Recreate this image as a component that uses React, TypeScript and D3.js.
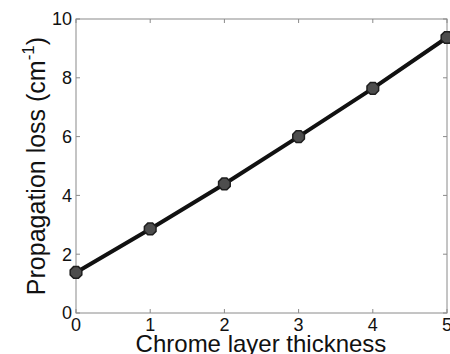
import * as d3 from "d3";

const thickness = [0, 1, 2, 3, 4, 5];
const loss = [1.38, 2.86, 4.39, 6.0, 7.64, 9.37];
const xTicks = [0, 1, 2, 3, 4, 5];
const yTicks = [0, 2, 4, 6, 8, 10];

const width = 450;
const height = 354;
const left = 76;
const right = 447;
const top = 19;
const bottom = 313;

export default function App() {
  const x = d3.scaleLinear().domain([0, 5]).range([left, right]);
  const y = d3.scaleLinear().domain([0, 10]).range([bottom, top]);

  const line = d3
    .line<number>()
    .x((_, i) => x(thickness[i]))
    .y((d) => y(d));

  // octagon marker, like the blurry matlab dots
  const octagon = d3
    .lineRadial<number>()
    .angle((d) => d)
    .radius(6.3)
    .curve(d3.curveLinearClosed)(d3.range(8).map((i) => Math.PI / 8 + (i * Math.PI) / 4));

  const font = "'Liberation Sans', Arial, sans-serif";
  const axisColor = "#8a8a8a";

  return (
    <svg
      width={width}
      height={height}
      style={{ position: "absolute", left: 0, top: 0, background: "#fff" }}
      fontFamily={font}
    >
      <rect x={0} y={0} width={width} height={height} fill="#fff" />

      {/* box */}
      <rect
        x={left}
        y={top}
        width={right - left}
        height={bottom - top}
        fill="none"
        stroke={axisColor}
        strokeWidth={1}
      />

      {/* ticks inward */}
      {xTicks.map((t) => (
        <g key={"xt" + t}>
          <line x1={x(t)} x2={x(t)} y1={bottom} y2={bottom - 4} stroke={axisColor} />
          <line x1={x(t)} x2={x(t)} y1={top} y2={top + 4} stroke={axisColor} />
          <text
            x={x(t)}
            y={bottom + 18}
            textAnchor="middle"
            fontSize={18}
            fill="#111"
          >
            {t}
          </text>
        </g>
      ))}
      {yTicks.map((t) => (
        <g key={"yt" + t}>
          <line x1={left} x2={left + 4} y1={y(t)} y2={y(t)} stroke={axisColor} />
          <line x1={right} x2={right - 4} y1={y(t)} y2={y(t)} stroke={axisColor} />
          <text
            x={72}
            y={y(t)}
            dy="0.35em"
            textAnchor="end"
            fontSize={18}
            fill="#111"
          >
            {t}
          </text>
        </g>
      ))}

      {/* series */}
      <path d={line(loss) ?? ""} fill="none" stroke="#111" strokeWidth={4} />
      {loss.map((v, i) => (
        <path
          key={"m" + i}
          d={octagon ?? ""}
          transform={`translate(${x(thickness[i])},${y(v)})`}
          fill="#4d4d4d"
          stroke="#1e1e1e"
          strokeWidth={1.5}
        />
      ))}

      {/* axis titles */}
      <text x={261} y={352} textAnchor="middle" fontSize={24} fill="#111">
        Chrome layer thickness
      </text>
      <text
        transform="translate(45,166) rotate(-90)"
        textAnchor="middle"
        fontSize={25}
        fill="#111"
      >
        Propagation loss (cm
        <tspan fontSize={17} dy={-11}>
          -1
        </tspan>
        <tspan dy={11}>)</tspan>
      </text>
    </svg>
  );
}
